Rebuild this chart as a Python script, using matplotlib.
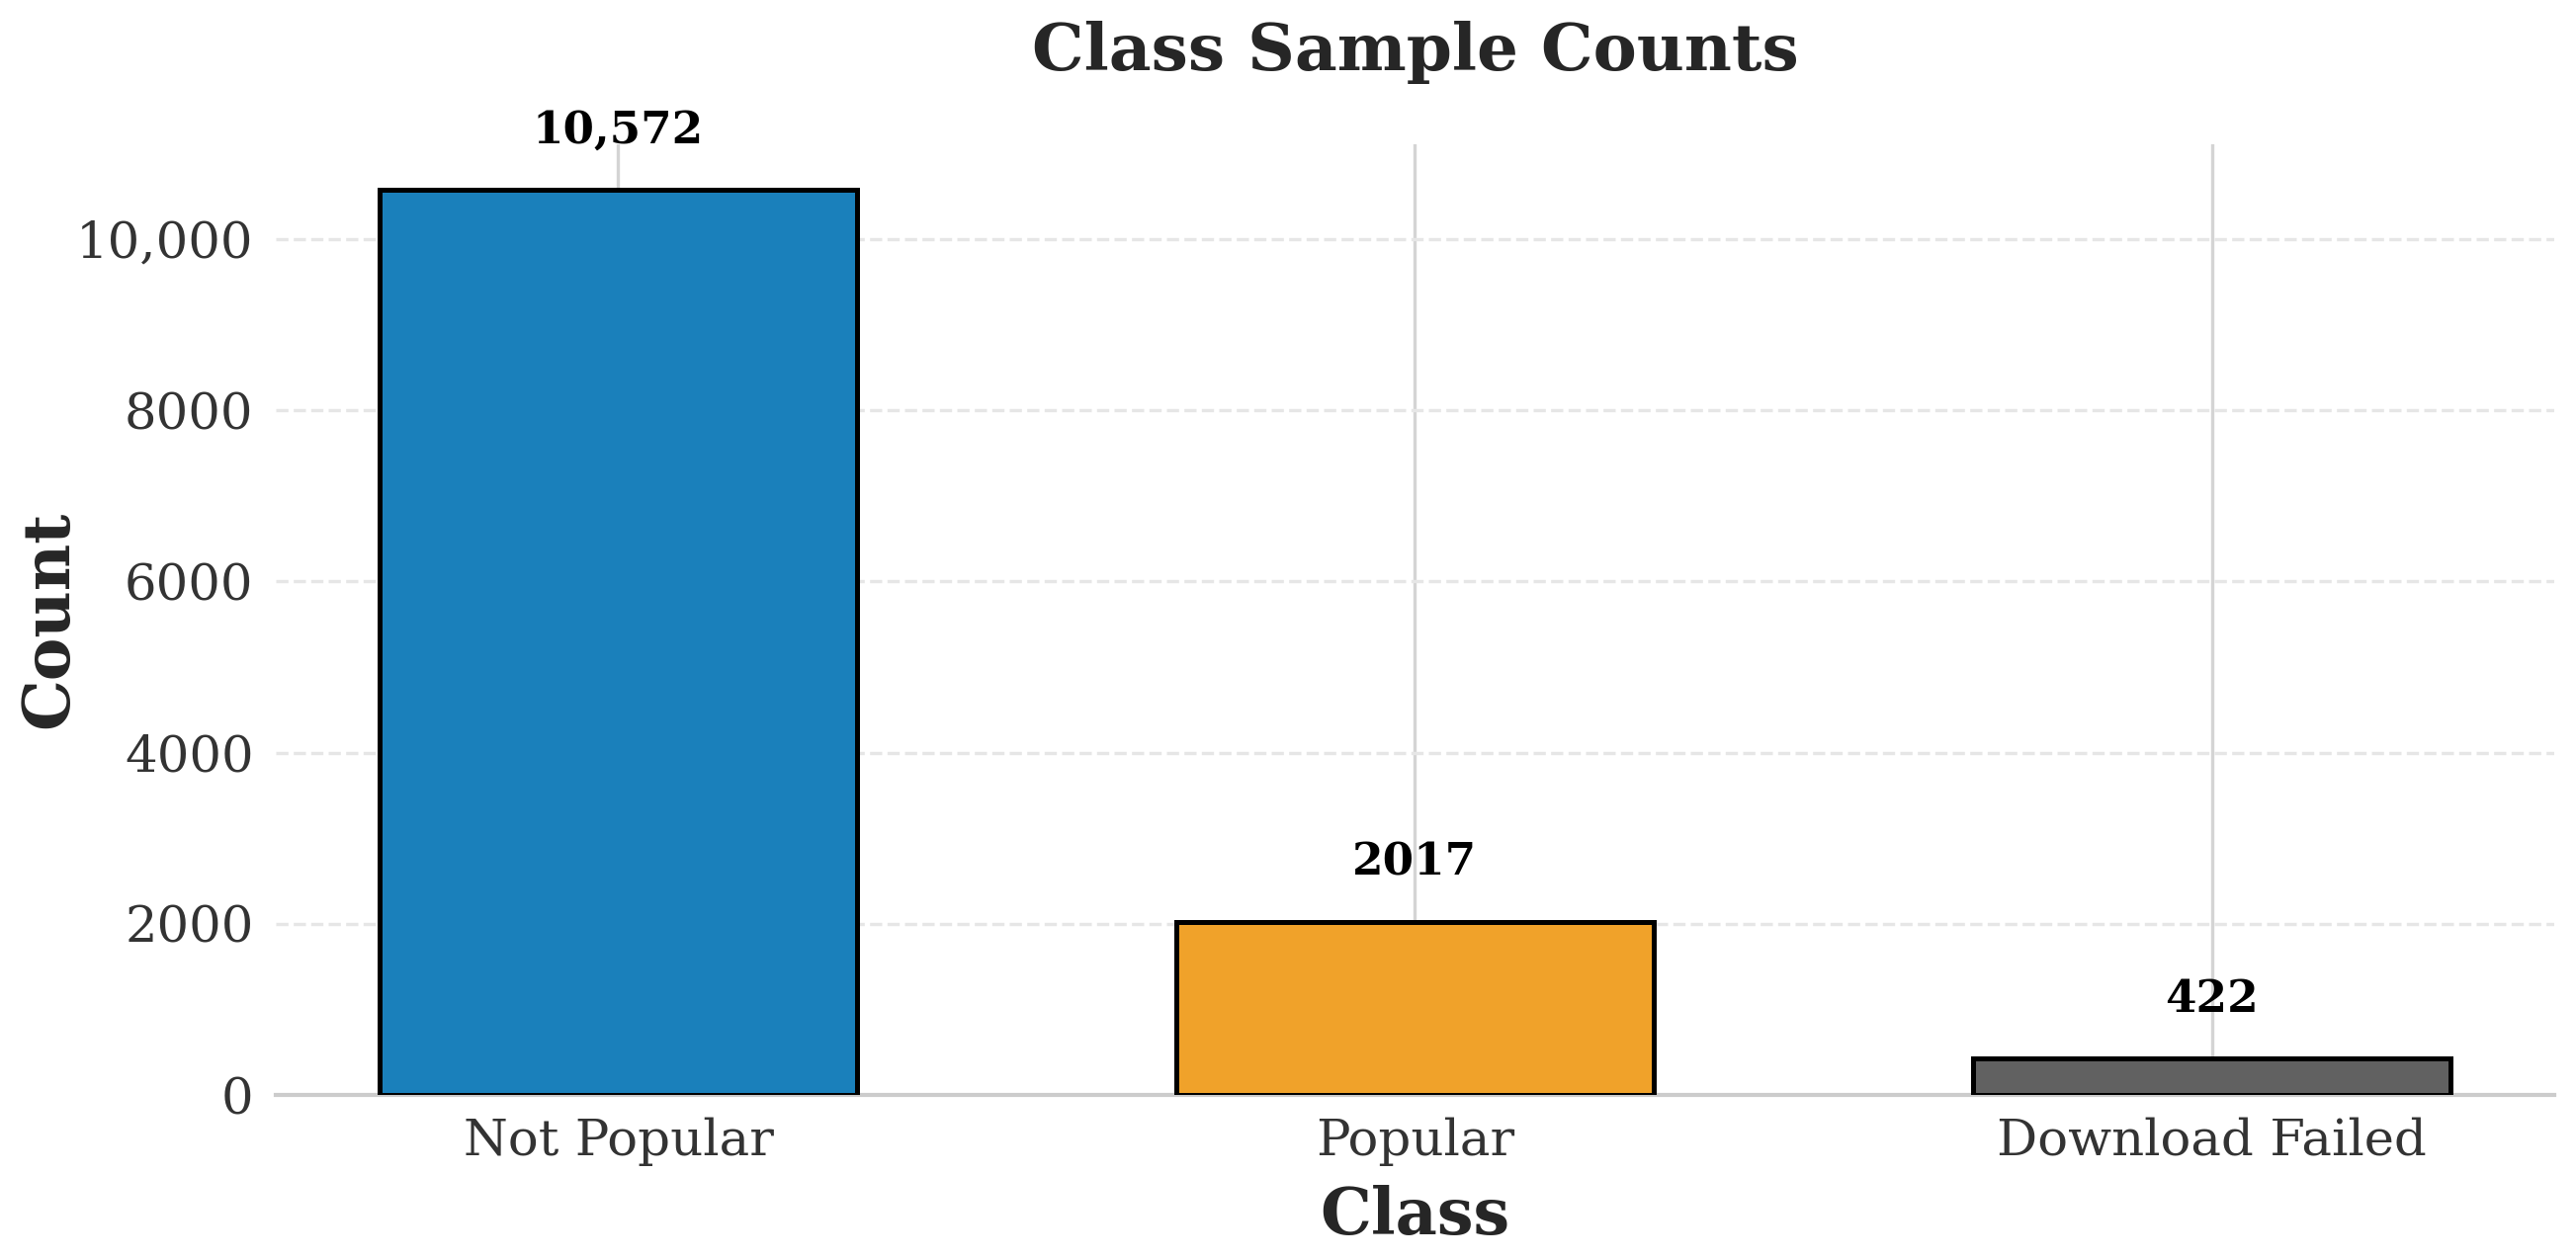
import numpy as np
import matplotlib
matplotlib.use("Agg")
from matplotlib import pyplot as plt
from matplotlib.ticker import FuncFormatter

classes = ["Not Popular", "Popular", "Download Failed"]
counts = [10572, 2017, 422]
colors = ["#1a80bb", "#f0a22a", "#616161"]

plt.rcParams['font.family'] = ['DejaVu Serif']


def fmt(v):
    # comma only for 5+ digit numbers
    return f"{v:,.0f}" if abs(v) >= 10000 else f"{v:.0f}"


fig = plt.figure(figsize=(13.03, 6.365), dpi=200)
ax = fig.add_axes([0.107, 0.1296, 0.8846, 0.7554])

x = np.arange(len(classes))
ax.bar(x, counts, width=0.6, color=colors, edgecolor="black", linewidth=1.8, zorder=3)
ax.set_ylim(0, max(counts) * 1.05)

for xi, v in zip(x, counts):
    ax.text(xi, v + max(counts) * 0.042, fmt(v), ha="center", va="bottom",
            fontsize=16.3, fontweight="bold", color="black", zorder=4)

ax.set_xticks(x)
ax.set_xticklabels(classes)
ax.yaxis.set_major_formatter(FuncFormatter(lambda v, p: fmt(v)))
ax.tick_params(axis="both", labelsize=18.5, colors="#333333", length=0, pad=8)

ax.grid(axis="x", color="#d4d4d4", linewidth=1.2, zorder=0)
ax.grid(axis="y", color="#e6e6e6", linewidth=1.2, linestyle="--", zorder=0)
ax.set_axisbelow(True)

for s in ["top", "right", "left"]:
    ax.spines[s].set_visible(False)
ax.spines["bottom"].set_color("#cccccc")
ax.spines["bottom"].set_linewidth(1.5)

ax.set_title("Class Sample Counts", fontsize=23.8, fontweight="bold", color="#262626", pad=27)
ax.set_xlabel("Class", fontsize=23.5, fontweight="bold", color="#262626", labelpad=7)
ax.set_ylabel("Count", fontsize=23.5, fontweight="bold", color="#262626", labelpad=-2)

plt.savefig("out.png", dpi=200)
